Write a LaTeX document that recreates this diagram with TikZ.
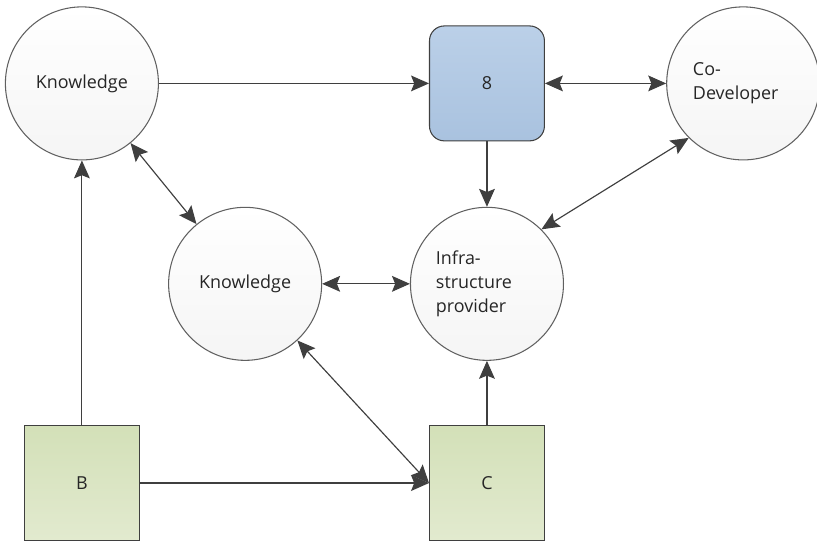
\documentclass[tikz,border=0pt]{standalone}
\usepackage{fontspec}
\setmainfont{Open Sans}
\usepackage{tikz}
\usetikzlibrary{arrows.meta}

\definecolor{linegray}{HTML}{3F3F3F}
\definecolor{rimgray}{HTML}{606060}
\definecolor{bluetop}{HTML}{BBD0E8}
\definecolor{bluebot}{HTML}{A9C2DF}
\definecolor{greentop}{HTML}{D3E0B8}
\definecolor{greenbot}{HTML}{E2EACF}

\tikzset{
  ball/.style={circle, draw=rimgray, line width=1pt, top color=white, bottom color=gray!8,
    minimum size=5.1cm, inner sep=0pt, text=black!85, font=\fontsize{17}{23}\selectfont},
  bluebox/.style={rectangle, rounded corners=14pt, draw=linegray, line width=1pt,
    top color=bluetop, bottom color=bluebot, minimum size=3.83cm, text=black!85,
    font=\fontsize{17}{23}\selectfont},
  greenbox/.style={rectangle, draw=linegray, line width=1pt,
    top color=greentop, bottom color=greenbot, minimum size=3.83cm, text=black!85,
    font=\fontsize{17}{23}\selectfont},
  link/.style={draw=linegray, line width=1.1pt,
    arrows={-Stealth[length=17pt,width=15pt,inset=3pt]}},
  twolink/.style={link, arrows={Stealth[length=17pt,width=15pt,inset=3pt]-Stealth[length=17pt,width=15pt,inset=3pt]}}
}

\begin{document}
\begin{tikzpicture}
\useasboundingbox (0,0) rectangle (27.23,18.13);

% nodes
\node[ball] (knowA) at (2.73,15.35) {Knowledge};
\node[bluebox] (eight) at (16.23,15.35) {8};
\node[ball, align=left, text width=3.35cm] (codev) at (24.77,15.35) {Co-\\Developer};
\node[ball] (knowB) at (8.17,8.67) {Knowledge};
\node[ball, align=left, text width=3.4cm] (infra) at (16.23,8.67) {Infra-\\structure\\provider};
\node[greenbox] (boxB) at (2.73,2.03) {B};
\node[greenbox] (boxC) at (16.23,2.03) {C};

% connectors
\draw[link] (knowA) -- (eight);
\draw[twolink] (eight) -- (codev);
\draw[link] (eight) -- (infra);
\draw[twolink] (codev.225) -- (infra.45);
\draw[twolink] (knowA) -- (knowB);
\draw[twolink] (knowB) -- (infra);
\draw[twolink] (knowB) -- (boxC.west);
\draw[link] (boxB) -- (knowA);
\draw[link] (boxB) -- (boxC);
\draw[link] (boxC) -- (infra);
\end{tikzpicture}
\end{document}
